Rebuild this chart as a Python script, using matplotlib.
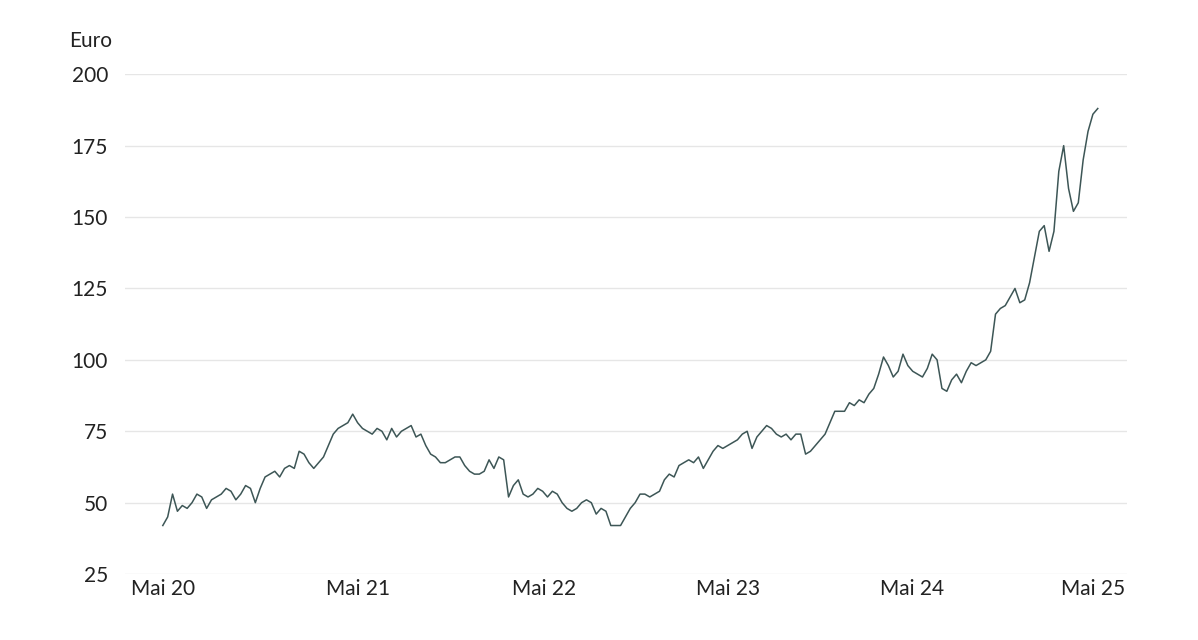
import numpy as np
import pandas as pd
import matplotlib.pyplot as plt

plt.rcParams['font.family'] = ['Lato', 'DejaVu Sans']

# price in Euro, roughly every two weeks, May 2020 -> May 2025
prices = [42, 45, 53, 47, 49, 48, 50, 53, 52, 48, 51, 52,
          53, 55, 54, 51, 53, 56, 55, 50, 55,
          59, 60, 61, 59, 62, 63, 62, 68, 67, 64,
          62, 64, 66, 70, 74, 76, 77, 78, 81, 78,
          76, 75, 74, 76, 75, 72, 76, 73, 75, 76, 77, 73, 74, 70, 67, 66,
          64, 64, 65, 66, 66, 63, 61, 60, 60, 61, 65, 62, 66, 65, 52, 56,
          58, 53, 52, 53, 55, 54, 52, 54, 53, 50, 48, 47, 48, 50, 51, 50,
          46, 48, 47, 42, 42, 42, 45, 48, 50, 53, 53, 52, 53, 54, 58, 60,
          59, 63, 64, 65, 64, 66, 62, 65, 68, 70, 69, 70, 71, 72, 74, 75,
          69, 73, 75, 77, 76, 74, 73, 74, 72, 74, 74, 67, 68, 70, 72, 74,
          78, 82, 82, 82, 85, 84, 86, 85, 88, 90, 95, 101, 98, 94, 96, 102,
          98, 96, 95, 94, 97, 102, 100, 90, 89, 93, 95, 92, 96, 99, 98, 99,
          100, 103, 116, 118, 119, 122, 125, 120, 121, 127, 136, 145, 147, 138,
          145, 166, 175, 160, 152, 155, 170, 180, 186, 188]
start = pd.Timestamp('2020-05-01')
end = pd.Timestamp('2025-05-10')
dates = pd.to_datetime(np.linspace(start.value, end.value, len(prices)))

tick_dates = pd.to_datetime(['2020-05-01', '2021-05-20', '2022-05-20',
                             '2023-05-15', '2024-05-10', '2025-05-01'])
tick_labels = ['Mai 20', 'Mai 21', 'Mai 22', 'Mai 23', 'Mai 24', 'Mai 25']
y_ticks = [25, 50, 75, 100, 125, 150, 175, 200]

fig = plt.figure(figsize=(11.98, 6.4), dpi=100)
ax = fig.add_axes([0.104, 0.103, 0.837, 0.781])
ax.plot(dates, prices, color='#3d5656', lw=1.1)

ax.set_ylim(25, 200)
ax.set_xlim(start - pd.Timedelta(days=75), pd.Timestamp('2025-05-01') + pd.Timedelta(days=67))
ax.set_yticks(y_ticks)
ax.set_xticks(tick_dates)
ax.set_xticklabels(tick_labels)
ax.grid(axis='y', color='#e6e6e6', lw=1)
ax.set_axisbelow(True)
for s in ax.spines.values():
    s.set_visible(False)
ax.tick_params(length=0, labelsize=15, colors='#222222')
ax.tick_params(axis='y', pad=12)
ax.text(-0.055, 1.055, 'Euro', transform=ax.transAxes, fontsize=15, color='#222222')

fig.savefig('out.png', dpi=100)
